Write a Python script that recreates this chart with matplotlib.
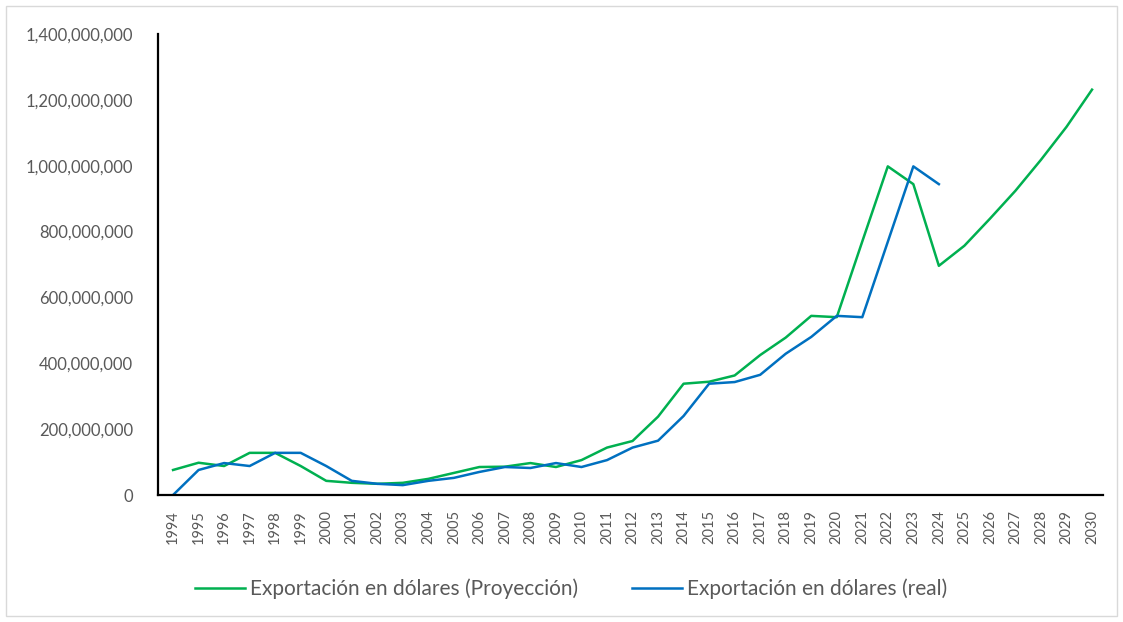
import matplotlib
matplotlib.use("Agg")
import matplotlib.pyplot as plt
import numpy as np
from matplotlib.patches import Rectangle
from matplotlib.ticker import FuncFormatter

years = list(range(1994, 2031))
proyeccion = [76e6, 98e6, 88e6, 128e6, 128e6, 88e6, 43e6, 37e6, 34e6, 37e6,
              49e6, 67e6, 85e6, 86e6, 97e6, 85e6, 106e6, 144e6, 164e6, 238e6,
              338e6, 344e6, 363e6, 425e6, 478e6, 544e6, 540e6, 770e6, 998e6, 944e6,
              696e6, 757e6, 839e6, 924e6, 1018e6, 1118e6, 1231e6]
real = [0, 76e6, 97e6, 88e6, 128e6, 128e6, 88e6, 43e6, 34e6, 30e6,
        43e6, 52e6, 70e6, 85e6, 82e6, 97e6, 85e6, 106e6, 144e6, 165e6,
        240e6, 338e6, 343e6, 365e6, 429e6, 480e6, 544e6, 540e6, 769e6, 998e6,
        944e6]
label_proy = "Exportación en dólares (Proyección)"
label_real = "Exportación en dólares (real)"
y_ticks = [0, 200e6, 400e6, 600e6, 800e6, 1000e6, 1200e6, 1400e6]

plt.rcParams['font.family'] = ['Lato', 'DejaVu Sans']
W, H = 1123, 622
fig = plt.figure(figsize=(W/100, H/100), dpi=100)
ax = fig.add_axes([158/W, 1-495/H, (1103-158)/W, (495-34)/H])

ax.plot(years, proyeccion, color='#00B050', lw=1.8, label=label_proy, solid_joinstyle='round')
ax.plot(years[:len(real)], real, color='#0070C0', lw=1.8, label=label_real, solid_joinstyle='round')

ax.set_xlim(1993.41, 2030.43)
ax.set_ylim(0, 1.4e9)
ax.set_yticks(y_ticks)
ax.yaxis.set_major_formatter(FuncFormatter(lambda v, p: f"{int(v):,}"))
ax.set_xticks(years)
ax.set_xticklabels([str(y) for y in years], rotation=90)
ax.tick_params(axis='both', length=0, colors='#595959')
ax.tick_params(axis='y', labelsize=12, pad=18)
ax.tick_params(axis='x', labelsize=10.5, pad=11)
for s in ['top', 'right']:
    ax.spines[s].set_visible(False)
for s in ['left', 'bottom']:
    ax.spines[s].set_color('black')
    ax.spines[s].set_linewidth(1.6)

leg = fig.legend(loc='center', bbox_to_anchor=(571/W, 1-589/H), ncol=2, frameon=False,
                 fontsize=15, handlelength=2.4, handletextpad=0.25, columnspacing=2.6,
                 labelcolor='#595959', borderaxespad=0, borderpad=0)

fig.patches.append(Rectangle((6/W, 6/H), 1-12/W, 1-12/H, transform=fig.transFigure,
                             fill=False, edgecolor='#D9D9D9', lw=1))
fig.savefig("out.png", dpi=100)
